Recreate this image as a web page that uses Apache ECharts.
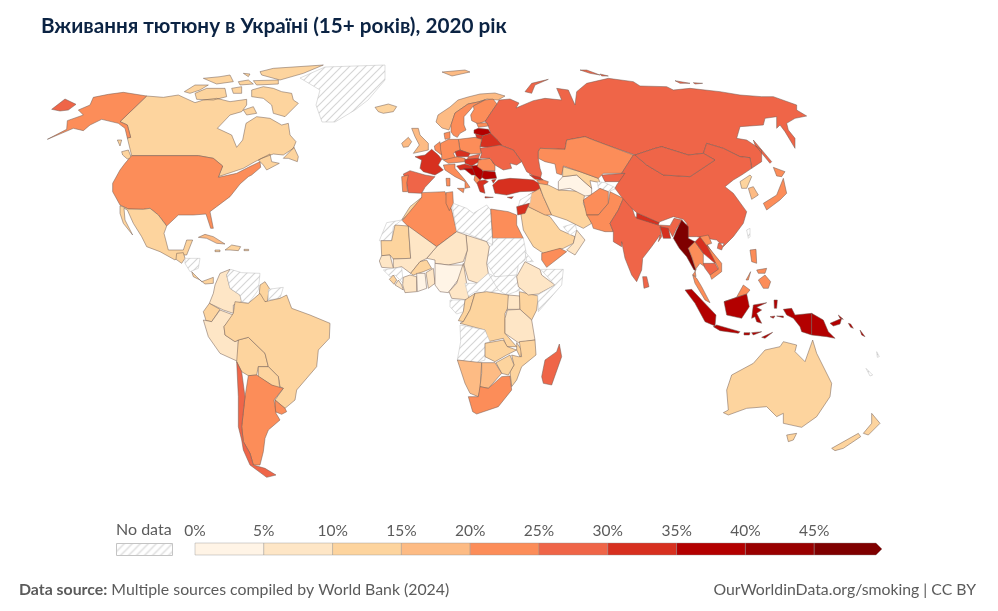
<!DOCTYPE html>
<html><head><meta charset="utf-8">
<script src="https://cdn.jsdelivr.net/npm/echarts@6/dist/echarts.min.js"></script>
<style>html,body{margin:0;padding:0;background:#fff}#c{width:998px;height:611px}</style></head>
<body><div id="c"></div>
<script>
const titleText = 'Вживання тютюну в Україні (15+ років), 2020 рік';
const sourceLabel = 'Data source:';
const sourceText = 'Multiple sources compiled by World Bank (2024)';
const creditText = 'OurWorldinData.org/smoking | CC BY';
const noDataText = 'No data';
const binEdges = [0,5,10,15,20,25,30,35,40,45,50];
const binColors = ['#fff4e6','#fee6c6','#fdd49e','#fdbb84','#fc8d59','#ef6548','#d7301f','#b30000','#990000','#7f0000'];

const countries = ['Canada','USA','Mexico','Guatemala','Honduras','CostaRicaPanama','Cuba','Hispaniola','Jamaica','PuertoRico','Colombia','Venezuela','Guyana','Suriname','Ecuador','Peru','Bolivia','Brazil','Paraguay','Uruguay','Argentina','Chile','Greenland','Iceland','Ireland','UK','Norway','Sweden','Finland','Russia','Estonia','Latvia','Lithuania','Belarus','Poland','Germany','Denmark','Benelux','France','Spain','Portugal','Austria','Czechia','Slovakia','Hungary','Croatia','Bosnia','Serbia','Bulgaria','Romania','Moldova','Ukraine','Greece','Albania','Turkey','Italy','Georgia','Azerbaijan','Morocco','WesternSahara','Algeria','Tunisia','Libya','Egypt','Sudan','SouthSudan','Chad','Niger','Mauritania','Mali','Senegal','Guinea','SierraLeone','Liberia','Ivory','Burkina','Ghana','Benin','Nigeria','Cameroon','CAR','Gabon','Congo','DRC','Uganda','Kenya','Tanzania','Ethiopia','Eritrea','Somalia','Angola','Zambia','Malawi','Mozambique','Zimbabwe','Namibia','Botswana','SouthAfrica','Madagascar','Saudi','Yemen','Oman','UAE','Iraq','Iran','Syria','Jordan','Turkmenistan','Uzbekistan','Kazakhstan','Kyrgyzstan','Tajikistan','Afghanistan','Pakistan','India','Nepal','Bangladesh','China','Mongolia','NKorea','SKorea','Japan','Taiwan','Myanmar','Thailand','Malaysia','Laos','Vietnam','Cambodia','SriLanka','Indonesia','PNG','Philippines','Australia','NewZealand','NewCaledonia','Vanuatu'];
const smokingShare = [12,23,12,13,null,12,17,13,12,12,8,null,13,null,11,8,12,12,12,21,23,28,null,12,16,16,17,21,21,27,22,35,32,31,23,23,21,23,31,28,22,22,31,28,31,32,36,37,37,24,27,27,32,22,31,23,32,23,12,null,22,22,null,22,null,null,8,7,12,8,8,null,12,9,7,11,3,6,4,7,null,null,12,12,8,11,8,6,null,null,null,12,12,12,12,17,17,22,27,13,22,7,null,17,12,null,33,4,13,22,26,null,22,21,27,32,33,27,27,14,18,22,null,47,23,22,33,21,26,27,37,37,21,12,13,null,null];

const frames = {A:[40,60,3],B:[170,230,3],C:[370,100,3],D:[370,190,3],E:[520,60,3],F:[620,220,3],R:[0,0,1]};
const shapes = {
Canada:['A 320,108 370,112 415,105 465,128 490,120 530,115 570,125 620,118 620,135 605,155 570,165 532,205 575,225 590,262 608,240 618,190 650,170 690,175 725,195 745,190 750,225 768,245 760,265 730,285 700,282 665,295 645,305 610,325 580,335 535,350 548,318 520,295 475,287 275,287 262,234 272,232 262,195 240,185','A 730,295 762,262 775,290 772,305 745,295','A 655,300 690,282 695,305 718,310 680,330 670,315','A 635,90 670,80 700,85 725,95 755,100 760,120 775,130 735,170 700,160 695,135 670,115 635,110','A 465,100 500,85 555,85 560,110 520,120 470,118','A 433,95 465,75 505,75 480,90 450,100','A 610,150 640,140 650,160 620,165','A 660,35 700,25 850,15 790,40 720,60 665,45','A 490,55 540,50 570,45 580,65 530,72','A 595,65 625,60 640,72 600,75','A 640,62 715,60 715,72 650,75','A 575,85 605,80 605,100 580,100','A 610,40 630,42 625,50','A 232,240 245,240 240,258','A 245,275 265,270 275,295 262,297 248,285'],
USA:['A 275,287 475,287 520,295 548,318 535,352 590,340 625,322 660,305 662,322 635,345 625,350 600,372 570,410 530,440 510,455 520,505 512,505 498,462 460,465 415,465 380,498 355,465 330,445 310,448 265,447 240,435 218,395 218,370 240,330 255,310','A 320,108 240,185 262,195 272,232 262,234 255,205 235,190 185,178 150,195 130,212 100,205 22,238 80,208 82,182 130,165 115,150 150,135 160,112 205,103 250,97'],
Mexico:['A 240,437 265,447 310,448 330,445 355,465 380,498 372,520 385,570 430,570 440,540 458,540 440,585 420,585 405,600 360,575 320,560 305,530 280,490 262,450 252,445 255,480 278,525 250,490 240,460'],
Guatemala:['B 20,70 40,68 45,85 35,100 18,88'],
Honduras:['B 45,85 90,85 85,115 60,125 45,100'],
CostaRicaPanama:['B 65,125 80,140 95,155 130,142 130,160 105,162 90,150 70,140'],
Cuba:['B 85,22 105,13 130,20 165,42 140,40 110,25'],
Hispaniola:['B 165,60 185,45 212,50 205,62 180,60'],
Jamaica:['B 135,60 150,60 150,65 135,65'],
PuertoRico:['B 222,58 236,58 236,62 222,62'],
Colombia:['B 150,130 180,118 170,135 180,175 210,195 215,215 190,225 190,250 160,240 118,220 130,190 135,165'],
Venezuela:['B 170,135 182,118 215,128 270,130 265,180 235,220 215,215 210,195 180,175'],
Guyana:['B 270,165 285,155 298,175 292,215 280,215 268,190'],
Suriname:['B 295,178 340,172 330,205 295,210'],
Ecuador:['B 100,245 118,220 150,238 125,275 108,272'],
Peru:['B 100,270 125,275 150,240 190,255 162,290 165,315 195,335 205,330 205,395 150,370 115,320'],
Bolivia:['B 205,330 235,322 285,370 295,410 265,410 260,435 235,437 215,425 200,395'],
Brazil:['B 162,290 190,250 195,215 235,220 270,190 285,215 330,205 350,195 365,235 420,255 480,280 478,325 445,360 440,410 380,480 375,510 345,535 315,510 340,475 330,470 325,440 295,410 285,370 235,322 205,330 195,335 165,315'],
Paraguay:['B 265,410 295,410 325,440 330,480 305,465 265,440'],
Uruguay:['B 315,510 345,535 350,545 335,553 315,545'],
Argentina:['B 235,437 260,435 305,465 340,475 312,510 318,550 330,570 295,600 285,625 280,665 270,705 250,705 240,670 220,635 215,590 225,500'],
Chile:['B 200,395 215,425 225,500 215,590 220,635 240,670 250,705 285,715 318,735 290,742 240,705 220,660 215,630 205,590 205,500'],
Greenland:['R 300,78 325,67 385,65 385,80 368,100 355,110 335,122 322,122 316,105 320,90'],
Iceland:['C 15,22 55,12 80,20 70,35 40,40 25,35'],
Ireland:['C 95,130 115,112 125,125 115,140 100,142'],
UK:['C 125,85 145,85 150,105 175,130 175,150 130,160 148,135 135,110'],
Norway:['R 436,122 438,115 450,107 458,100 468,97 480,94 495,93 505,96 498,100 487,99 478,102 468,104 455,113 451,125 449,130 442,128','R 442,72 465,70 470,72 452,76'],
Sweden:['R 451,125 455,113 468,104 478,102 485,100 C 310,18 300,30 282,50 282,75 288,90 270,100 262,112 250,106 243,95'],
Finland:['R 485,100 493,99 497,104 C 365,35 348,62 325,72 305,62 302,45 312,28 310,18'],
Russia:['R 497,104 499,100 510,99 519,103 516,108 E 40,122 75,115 125,120 110,85 145,90 165,135 170,95 200,70 265,55 340,65 360,78 440,80 460,90 510,85 600,95 660,105 725,110 760,110 830,135 830,150 860,168 825,175 800,190 805,210 825,235 825,265 795,215 780,195 770,205 770,170 735,175 730,195 660,200 650,235 680,240 725,270 725,305 695,325 690,293 660,290 610,265 560,250 550,280 505,285 425,260 405,265 345,285 260,255 220,240 195,230 140,240 135,268 60,265 55,275 55,295 60,325 65,340 C 510,240 470,215 455,185 430,150 390,135 380,118 362,100 355,78 350,68 345,65 365,35','A 35,148 75,117 108,133 85,150 60,153','E 15,95 35,70 85,58 45,75 35,100','E 700,240 755,305 750,310 705,255','E 180,30 200,30 240,45 210,40','E 240,42 265,48 245,48','E 465,62 510,70 480,70','E 520,68 548,70 525,72'],
Estonia:['C 320,70 350,68 355,78 325,82'],
Latvia:['C 312,90 325,85 355,88 362,100 335,108 312,100'],
Lithuania:['C 317,102 338,107 335,118 320,118'],
Belarus:['C 335,118 338,107 362,100 380,118 395,135 360,142 330,140'],
Poland:['C 265,118 315,112 335,118 330,140 335,160 300,162 270,150'],
Germany:['C 212,130 235,118 265,118 270,150 250,160 260,180 215,178 215,165 205,150'],
Denmark:['C 222,100 240,95 240,115 225,118'],
Benelux:['C 193,138 210,125 212,150 215,165 195,150'],
France:['C 135,170 165,165 185,148 205,165 215,178 205,195 220,210 195,225 160,215 150,205 155,180'],
Spain:['C 100,222 120,212 165,225 195,230 165,262 155,280 115,278 110,250'],
Portugal:['C 95,230 115,225 110,250 113,275 98,275'],
Austria:['C 220,180 262,170 285,175 285,185 235,190'],
Czechia:['C 255,155 270,150 300,160 295,170 260,170'],
Slovakia:['C 295,170 330,162 325,175 290,183'],
Hungary:['C 285,178 325,175 335,180 305,198 285,190'],
Croatia:['C 260,198 285,192 305,198 315,215 290,208 270,210'],
Bosnia:['C 280,205 310,205 318,225 305,225'],
Serbia:['C 305,198 325,195 345,222 330,240 315,225'],
Bulgaria:['C 340,212 375,215 380,235 345,238 335,232'],
Romania:['C 325,180 360,175 375,195 375,212 340,212 322,200'],
Moldova:['C 365,170 378,185 370,190'],
Ukraine:['C 330,145 390,135 430,150 455,185 440,195 420,190 425,205 400,210 375,195 360,175 330,175 335,160'],
Greece:['C 318,242 345,240 355,245 340,255 345,280 330,275','C 345,290 370,292 368,295 345,294'],
Albania:['C 315,225 330,240 320,250 312,240'],
Turkey:['C 368,255 385,240 420,235 470,238 490,240 515,255 520,272 450,275 410,285 375,280','C 365,240 378,238 370,250','C 412,292 430,290 425,296'],
Italy:['C 220,195 255,192 255,205 285,240 300,262 285,265 285,245 255,230 225,210','C 262,265 283,265 280,278','C 228,235 240,235 240,258 230,258'],
Georgia:['C 478,224 510,232 520,240 495,238'],
Azerbaijan:['C 500,240 520,240 535,245 530,260 510,255'],
Morocco:['D 95,90 120,50 155,22 150,50 115,75'],
WesternSahara:['D 28,152 50,98 95,90 70,110 65,152'],
Algeria:['D 97,92 155,22 155,8 225,5 245,60 260,125 200,170 115,110'],
Tunisia:['D 228,8 248,5 250,40 238,62 228,40'],
Libya:['D 248,55 250,40 290,55 310,70 350,45 362,60 368,165 350,155 290,130 260,125'],
Egypt:['D 362,57 415,65 440,75 440,105 460,145 368,145'],
Sudan:['D 368,145 460,145 468,185 465,210 445,225 440,255 410,260 375,260 350,220 358,170 368,165'],
SouthSudan:['D 355,250 375,260 440,255 450,300 410,315 385,300 365,280'],
Chad:['D 288,135 350,155 358,170 350,220 355,250 325,280 295,270 282,225 292,180'],
Niger:['D 200,170 260,125 288,135 292,180 280,215 235,225 195,220 195,210 170,205'],
Mauritania:['D 33,152 65,152 75,105 115,108 122,205 70,207 60,195 35,197'],
Mali:['D 115,108 200,170 170,205 150,215 122,250 95,230 70,235 70,207 122,205'],
Senegal:['D 28,213 35,197 60,195 70,235 35,232'],
Guinea:['D 40,240 70,235 95,232 100,280 75,255 60,260'],
SierraLeone:['D 58,268 70,255 80,270 72,283'],
Liberia:['D 75,285 85,270 95,285 100,300'],
Ivory:['D 100,262 120,255 140,260 140,305 105,308 98,285'],
Burkina:['D 122,250 150,215 170,210 185,235 160,245 130,255'],
Ghana:['D 140,250 165,250 170,295 142,305'],
Benin:['D 168,248 190,235 195,280 175,295'],
Nigeria:['D 195,220 235,225 280,225 275,255 235,308 210,305 195,285'],
Cameroon:['D 280,220 290,280 298,330 245,325 237,305 260,280'],
CAR:['D 285,280 320,280 355,250 385,300 350,310 315,305 295,318'],
Gabon:['D 240,330 285,330 280,365 260,372 240,350'],
Congo:['D 285,330 315,310 300,360 280,395 265,392 280,365'],
DRC:['D 315,310 350,305 415,315 418,345 405,370 405,430 440,470 410,470 400,445 355,455 345,420 270,400 280,395 300,360'],
Uganda:['D 415,315 450,318 450,358 412,358'],
Kenya:['D 448,305 505,318 500,360 485,390 450,358'],
Tanzania:['D 412,360 450,358 485,390 495,450 445,458 405,430 405,385'],
Ethiopia:['D 465,215 510,238 515,255 555,285 505,312 475,315 445,290 440,260'],
Eritrea:['D 465,185 490,215 470,215'],
Somalia:['D 512,238 580,238 575,285 505,365 503,315 555,285'],
Angola:['D 270,405 345,420 360,455 345,460 345,510 320,518 262,510 272,455'],
Zambia:['D 345,460 400,450 412,470 440,480 420,490 410,495 375,515 345,500'],
Malawi:['D 440,458 455,480 452,505 440,480'],
Mozambique:['D 448,455 495,450 498,495 455,530 440,570 425,590 420,545 432,525 425,495 445,500 455,500'],
Zimbabwe:['D 378,518 420,495 432,525 415,555 395,550'],
Namibia:['D 262,510 335,518 330,600 325,620 300,610 285,580'],
Botswana:['D 335,518 375,518 395,550 355,595 330,590 335,550'],
SouthAfrica:['D 325,620 330,590 355,595 395,560 420,558 425,600 385,650 320,672 308,665 295,620'],
Madagascar:['D 568,462 575,500 545,585 520,580 515,560 525,510 560,485'],
Saudi:['E 0,445 25,440 90,470 120,510 165,530 160,550 130,565 70,580 40,560 10,510'],
Yemen:['D 515,190 570,175 590,185 530,232 515,210'],
Oman:['E 165,530 170,510 195,540 165,585 140,570 160,550'],
UAE:['E 130,500 165,490 170,510 150,525'],
Iraq:['E 25,405 60,385 70,410 95,465 75,465 25,440'],
Iran:['E 55,370 85,375 115,390 195,395 190,430 215,490 190,505 140,480 95,465 70,410'],
Syria:['C 450,300 485,280 480,310 445,320'],
Jordan:['C 440,320 478,310 465,340 443,345'],
Turkmenistan:['E 115,365 128,350 170,345 215,385 215,405 195,408 150,385 115,390'],
Uzbekistan:['E 128,320 180,335 235,355 240,368 210,362 215,385 170,345 128,350'],
Kazakhstan:['E 55,275 60,265 135,268 140,240 195,230 220,240 260,255 340,285 305,340 250,340 235,355 180,335 130,318 125,345 110,340 105,312 75,305 55,295'],
Kyrgyzstan:['E 245,345 315,340 300,365 255,365'],
Tajikistan:['E 232,365 255,368 290,385 265,395 235,385'],
Afghanistan:['E 190,420 240,385 265,395 265,430 235,465 200,465'],
Pakistan:['E 200,465 235,465 265,430 270,395 310,415 295,450 270,490 280,515 255,515 220,505 215,490'],
India:['E 310,415 335,440 345,470 415,495 450,497 462,475 487,480 470,505 458,530 447,510 420,500 425,530 415,545 F 120,45 95,80 68,115 65,150 50,185 35,165 15,115 5,65 E 305,560 280,545 280,515 270,490 295,450'],
Nepal:['E 350,458 418,487 415,495 350,475'],
Bangladesh:['E 420,500 445,505 452,535 430,535'],
China:['E 340,285 305,340 315,340 290,375 285,385 300,405 330,440 350,458 415,487 460,470 490,478 500,490 503,530 530,530 590,540 610,560 640,530 670,490 680,455 640,400 615,380 640,360 665,345 695,325 690,293 660,290 610,265 560,250 550,280 585,300 540,330 510,350 430,345 380,315 345,285','E 595,550 612,550 605,570 592,565'],
Mongolia:['E 345,285 405,265 425,260 505,285 550,280 585,300 540,330 510,350 430,345 380,315'],
NKorea:['E 660,365 690,345 695,350 680,385 665,385'],
SKorea:['E 685,385 700,380 715,405 695,418'],
Japan:['E 730,430 770,405 790,355 800,400 780,420 740,450','E 760,322 795,335 785,350 770,348'],
Taiwan:['F 380,30 390,25 390,50 385,55'],
Myanmar:['F 185,0 205,20 205,55 225,65 205,85 215,110 228,150 222,150 200,110 178,85 160,55 170,30'],
Thailand:['F 205,85 225,65 250,100 250,130 260,145 240,130 225,150 228,170 218,165 228,150 215,110'],
Malaysia:['F 218,165 230,175 245,200 270,248 255,240 225,190','F 312,245 345,240 370,195 390,210 380,222'],
Laos:['F 225,65 240,50 262,75 295,125 285,130 250,100'],
Vietnam:['F 240,50 265,45 275,70 260,75 305,130 305,155 275,178 270,165 295,145 285,125 262,80'],
Cambodia:['F 250,130 285,130 295,148 270,165 255,145'],
SriLanka:['F 68,170 80,170 87,200 72,205'],
Indonesia:['F 195,210 215,208 250,245 288,285 285,318 255,305 225,250','F 280,320 290,315 360,335 355,340 300,332','F 372,338 390,338 388,345 372,345','F 395,338 425,335 400,345','F 425,352 458,337 435,355','F 312,245 380,222 388,260 365,295 320,285','F 395,295 400,255 440,248 410,262 425,270 410,280 425,310 410,305 405,290','F 462,240 472,240 470,265 463,265','F 450,290 465,288 460,295','F 470,288 490,288 490,293','F 490,268 515,265 525,285 575,280 575,345 545,335 540,320 520,295 500,285'],
PNG:['F 575,280 610,300 625,335 645,355 620,350 575,345','F 630,310 665,295 660,312 640,318','F 655,285 670,298 660,295','F 685,310 692,312 700,325 692,322','F 720,330 735,350 725,345'],
Philippines:['F 390,90 408,88 410,130 395,125','F 415,180 435,165 452,185 445,205 430,205','F 410,150 440,145 435,160 415,160','F 378,180 392,155 385,180'],
Australia:['F 310,578 325,570 320,510 335,465 400,430 435,390 480,380 490,365 530,375 525,395 555,425 578,360 590,400 635,490 630,530 590,590 545,622 490,610 490,580 470,590 440,560 380,565 325,585','F 500,645 530,640 520,660 505,665'],
NewZealand:['F 635,685 715,640 722,650 670,685 645,692','F 730,640 755,610 755,580 780,610 745,645'],
NewCaledonia:['F 738,445 758,465 750,468'],
Vanuatu:['F 770,395 778,410 772,412']
};

function parseRing(str){
  let f=frames.R, out=[];
  str.split(/\s+/).forEach(t=>{
    if(frames[t]){f=frames[t];return;}
    const [a,b]=t.split(',').map(Number);
    out.push([f[0]+a/f[2], -(f[1]+b/f[2])]);
  });
  out.push(out[0].slice());
  return out;
}
const features = countries.map(n=>({type:'Feature',properties:{name:n},
  geometry:{type:'MultiPolygon',coordinates:(shapes[n]||[]).map(r=>[parseRing(r)])}}));
echarts.registerMap('world',{type:'FeatureCollection',features});

function hatch(){
  const s=8,c=document.createElement('canvas');c.width=s;c.height=s;
  const g=c.getContext('2d');g.fillStyle='#fff';g.fillRect(0,0,s,s);
  g.strokeStyle='#d6d6d6';g.lineWidth=1.2;
  [[0,s,s,0],[-s/2,s/2,s/2,-s/2],[s/2,s+s/2,s+s/2,s/2]].forEach(l=>{g.beginPath();g.moveTo(l[0],l[1]);g.lineTo(l[2],l[3]);g.stroke();});
  return c;
}
const pat={image:hatch(),repeat:'repeat'};
const legendBins=binColors.map((c,i)=>[binEdges[i],binEdges[i+1],i]);

const chart=echarts.init(document.getElementById('c'),null,{renderer:'canvas'});
chart.setOption({
  animation:false,
  backgroundColor:'#fff',
  textStyle:{fontFamily:'Lato'},
  title:[
    {text:titleText,left:36,top:11,textStyle:{fontFamily:'Lato',fontWeight:'bold',fontSize:20.7,color:'#0b2343'}},
    {text:'{b|'+sourceLabel+'} '+sourceText,left:14,top:577,textStyle:{rich:{b:{fontFamily:'Lato',fontWeight:'bold',fontSize:15.85,color:'#5b5b5b'}},fontFamily:'Lato',fontWeight:'normal',fontSize:15.85,color:'#5b5b5b'}},
    {text:creditText,right:17,top:577,textStyle:{fontFamily:'Lato',fontWeight:'normal',fontSize:15.8,color:'#5b5b5b'}}
  ],
  visualMap:{show:false,type:'piecewise',seriesIndex:0,dimension:'value',
    pieces:legendBins.map(b=>({gte:b[0],lt:b[1]===50?1000:b[1],color:binColors[b[2]]}))},
  grid:{left:195,width:688,top:543,height:12},
  xAxis:{type:'value',min:0,max:50,interval:5,position:'top',axisLine:{show:false},axisTick:{show:false},splitLine:{show:false},
    axisLabel:{margin:4,fontFamily:'Lato',fontSize:15.5,color:'#5b5b5b',formatter:v=>v===50?'':v+'%'}},
  yAxis:{type:'category',data:['l'],show:false},
  series:[
    {type:'map',map:'world',silent:true,aspectScale:1,boundingCoords:[[0,0],[998,-611]],left:0,top:0,width:998,height:611,
     label:{show:false},emphasis:{disabled:true},
     itemStyle:{areaColor:pat,borderColor:'#6f5a52',borderWidth:0.5},
     data:countries.map((n,i)=>smokingShare[i]==null
       ?{name:n,value:NaN,itemStyle:{borderColor:'#bdbdbd'}}
       :{name:n,value:smokingShare[i]})},
    {type:'custom',silent:true,data:legendBins,encode:{x:[0,1]},
     renderItem:(p,api)=>{
       const a=api.coord([api.value(0),0]),b=api.coord([api.value(1),0]),h=api.size([0,1])[1];
       const y0=a[1]-h/2,y1=a[1]+h/2,i=api.value(2),last=i===binColors.length-1;
       const pts=last?[[a[0],y0],[b[0]-7,y0],[b[0]-1,a[1]],[b[0]-7,y1],[a[0],y1]]:[[a[0],y0],[b[0],y0],[b[0],y1],[a[0],y1]];
       return {type:'polygon',shape:{points:pts},style:{fill:binColors[i],stroke:'#8f8f8f',lineWidth:0.4}};
     }}
  ],
  graphic:[
    {type:'rect',left:116,top:543,shape:{width:56,height:12},style:{fill:pat,stroke:'#c4c4c4',lineWidth:1}},
    {type:'text',left:116,top:522,style:{text:noDataText,fontFamily:'Lato',fontSize:16,fill:'#5b5b5b'}}
  ]
});
</script></body></html>
